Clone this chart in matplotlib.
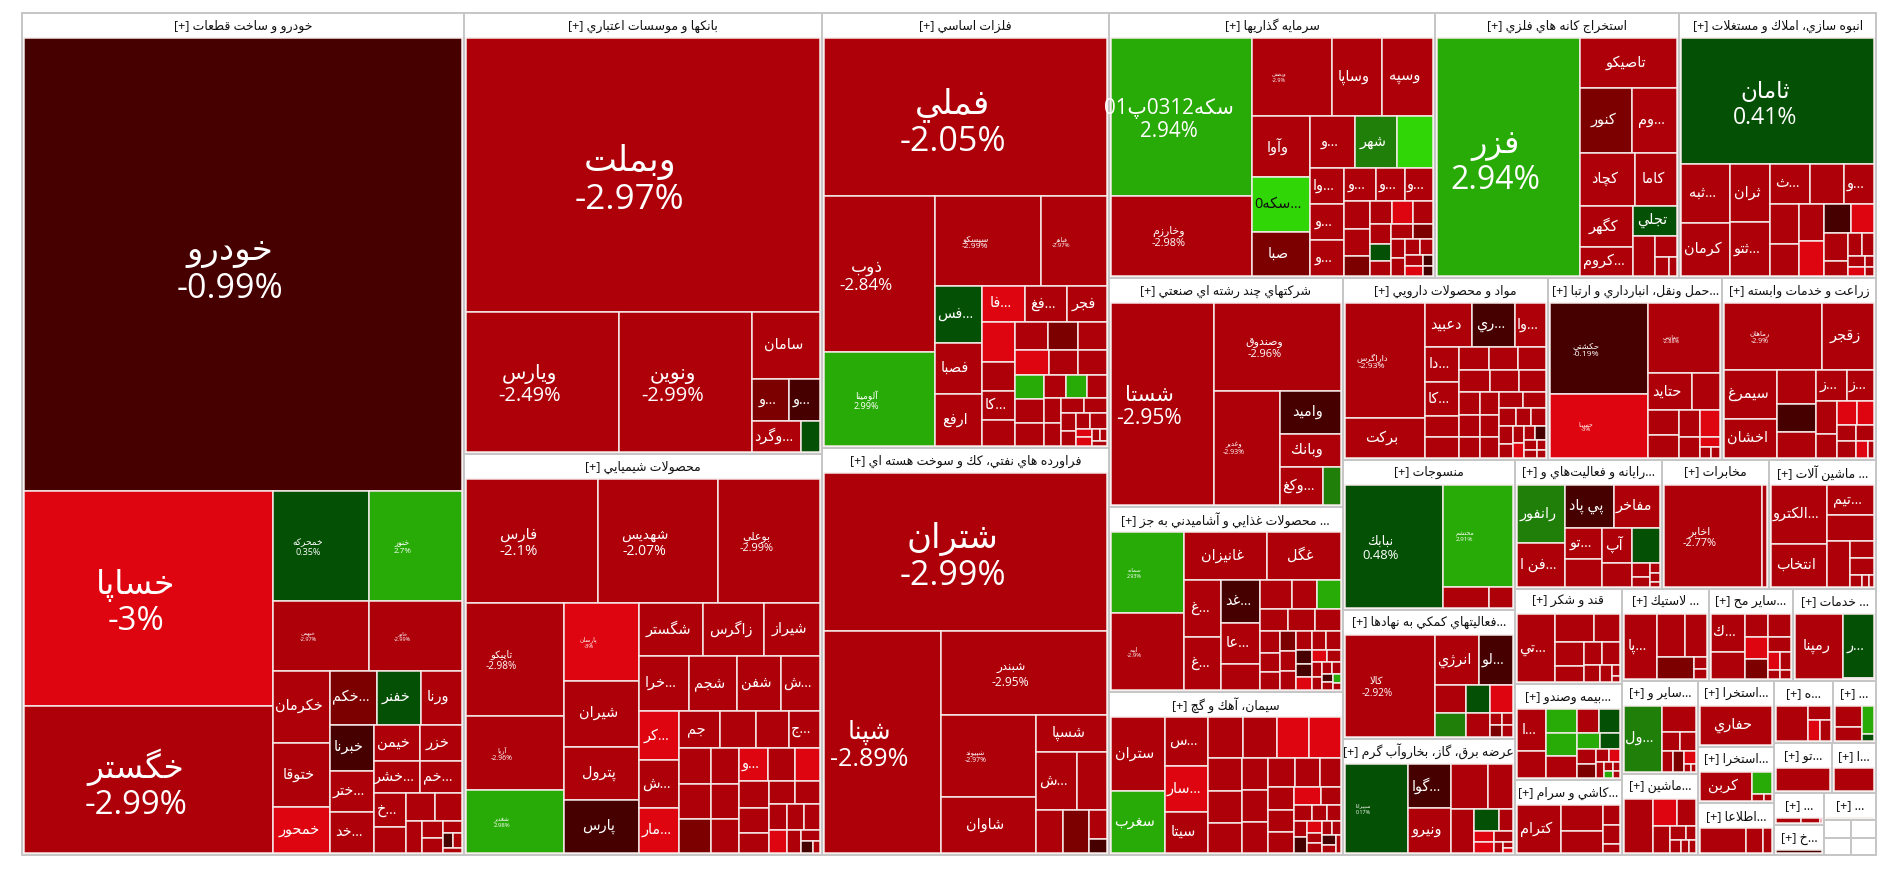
import re
import matplotlib
matplotlib.use("Agg")
import matplotlib.pyplot as plt
from matplotlib.patches import Rectangle

# ---------- data: (estimated) cell sizes, change % and names, sector by sector ----------
auto_names = ["خودرو","خساپا","خگستر","خمحركه","خنور","خبهمن","خاور","خكرمان","ختوقا","خمحور","خكم...","خفنر","ورنا","خبرنا","ختر...","خد...","خيمن","خزر","خشر...","خم...","خ..."]
auto_changes = [-0.99,-3,-2.99,0.35,2.7,-2.97,-2.99,-2.5,-2.5,-3,-1.5,0.5,-2.5,-0.5,-2.5,-2.5,-2.5,-2.5,-2.5,-2.5,-2.5,-2.5,-2.5,-2.5,-2.5,-2.5,-2.5,-2.5,-0.5,-2.5,-2.5]
auto_values = [198,53.5,36.6,10.5,10.2,6.6,6.4,4.1,3.65,2.6,2.5,2.4,2.2,1.98,1.8,1.75,1.67,1.5,1.5,1.35,1.09,0.84,0.81,0.73,0.51,0.35,0.32,0.23,0.16,0.12,0.1]

bank_names = ["وبملت","ويارس","ونوين","سامان","و...","و...","وگرد...",""]
bank_changes = [-2.97,-2.49,-2.99,-2.5,-1.5,-0.5,-2.5,0.5]
bank_values = [97.4,21.5,18.8,4.6,1.55,1.3,1.49,0.6]

chem_names = ["فارس","شهديس","بوعلي","تاپيكو","آريا","شغدير","پارسان","شيران","پترول","پارس","شگستر","زاگرس","شيراز","خرا...","شجم","شفن","ش...","كر...","ش...","مار...","جم","","","ج...","","","","","","","و..."]
chem_changes = [-2.1,-2.07,-2.99,-2.98,-2.96,2.98,-3,-2.5,-2.5,-0.5,-2.5,-2.5,-2.5,-2.5,-2.5,-2.5,-2.5,-3,-2.5,-3,-2.5,-2.5,-2.5,-2.5,-2.5,-2.5,-1.5,-2.5,-2.5,-2.5,-3,-2.5,-3,-2.5,-2.5,-2.5,-2.5,-2.5,-2.5,-3,-2.5,-2.5,-2.5,-2.5,-0.5,-2.5]
chem_values = [16.3,14.9,12.6,11,7.3,6.1,5.85,5,4,4,3.4,3.2,3,2.7,2.65,2.4,2.15,1.96,1.88,1.8,1.47,1.3,1.2,1.15,1.15,1.09,1.05,1.04,1,0.98,0.95,0.9,0.83,0.79,0.72,0.6,0.6,0.58,0.47,0.43,0.42,0.42,0.31,0.23,0.15,0.08]

metal_names = ["فملي","ذوب","آلومينا","سپسكو","فباهر","...فس","فصبا","ارفع","فا...","فغ...","فجر","","","كا..."]
metal_changes = [-2.05,-2.84,2.99,-2.99,-2.97,0.5,-2.5,-2.5,-3,-2.5,-2.5,-3,-2.5,-2.5,-2.5,-2.5,-1.5,-2.5,-3,-2.5,-2.5,2.5,-2.5,-2.5,-2.5,2.5,-2.5,-2.5,-2.5,-2.5,-2.5,-2.5,-2.5,-2.5,-2.5,-3,-3,-2.5,-2.5,-2.5]
metal_values = [44.4,17.1,10.3,9.5,5.8,2.65,2.4,2.4,1.55,1.5,1.4,1.33,0.98,0.95,0.88,0.92,0.84,0.82,0.82,0.72,0.69,0.7,0.67,0.65,0.5,0.48,0.44,0.42,0.39,0.36,0.36,0.26,0.23,0.22,0.25,0.14,0.14,0.1,0.08,0.07]

ref_names = ["شتران","شپنا","شبندر","شپيوند","شاوان","شسپا","ش..."]
ref_changes = [-2.99,-2.89,-2.95,-2.97,-2.5,-2.5,-2.5,-2.5,-2.5,-1.5,-2.5,-0.5]
ref_values = [44.7,26,14.1,7.8,5.4,2.56,2.4,1.74,1.16,1.08,0.52,0.25]

inv_names = ["سكه0312پ01","وخارزم","وپخش","وساپا","وسپه","وآوا","سكه0...","صبا","و...","شهر","","وا...","و...","و...","و...","و...","و..."]
inv_changes = [2.94,-2.98,-2.9,-2.5,-2.5,-2.5,3,-1.5,-2.5,1.5,3,-2.5,-2.5,-2.5,-2.5,-2.5,-2.5,-2.5,-2.5,-1.5,-2.5,-3,-2.5,-2.5,0.5,-2.5,-2.5,-1.5,-2.5,-2.5,-2.5,-2.5,-2.5,-3,-0.5,-0.5]
inv_values = [22,11.2,6.1,3.9,3.9,3.5,3.1,2.5,2.3,2.2,1.85,1.2,1.2,1.2,1.05,0.93,0.93,0.7,0.7,0.5,0.5,0.48,0.45,0.42,0.36,0.33,0.33,0.3,0.26,0.24,0.23,0.2,0.19,0.16,0.12,0.1]

mine_names = ["فزر","تاصيكو","كنور","وم...","كچاد","كاما","كگهر","كروم...","تجلي"]
mine_changes = [2.94,-2.5,-1.5,-2.5,-2.5,-2.5,-2.5,-2.5,0.5,-2.5,-2.5,-2.5,-2.5]
mine_values = [33.2,4.75,3.3,2.9,2.8,2.2,2.1,1.5,1.3,0.86,0.48,0.26,0.16]

con_names = ["ثامان","ثبه...","كرمان","ثران","ثتو...","ث...","","و..."]
con_changes = [0.41,-2.5,-2.5,-2.5,-2.5,-2.5,-2.5,-2.5,-2.5,-2.5,-2.5,-3,-0.5,-3,-2.5,-2.5,-2.5,-2.5,-2.5,-3,-2.5,-2.5]
con_values = [24.5,2.9,2.6,2.3,2.15,1.6,1.33,1.2,1.2,0.96,0.9,0.86,0.82,0.68,0.68,0.36,0.32,0.29,0.18,0.16,0.1,0.08]

multi_names = ["شستا","وصندوق","وغدير","واميد","وبانك","وكغ..."]
multi_changes = [-2.95,-2.96,-2.93,-0.5,-2.5,-2.5,1.5]
multi_values = [20.2,10.8,7.3,2.56,2,1.58,0.62]

food_names = ["سمانه","ايبه","غانيزان","غگل","غ...","غ...","غد...","عا..."]
food_changes = [2.93,-2.9,-2.5,-2.5,-2.5,-2.5,-0.5,-2.5,-2.5,-2.5,-2.5,2.5,-2.5,-2.5,-2.5,-2.5,-2.5,-2.5,-1.5,-2.5,-2.5,-2.5,-2.5,-2.5,-0.5,-0.5,-3,-3,-2.5,-2.5,-2.5,-2.5,-2.5,-0.5,-2.5,2.5,-2.5]
food_values = [5.9,5.5,4,3.55,2.1,1.95,1.65,1.55,1,0.9,0.7,0.68,0.6,0.58,0.55,0.43,0.38,0.35,0.31,0.31,0.3,0.29,0.27,0.26,0.22,0.2,0.2,0.19,0.17,0.15,0.13,0.12,0.1,0.09,0.08,0.07,0.05]

cem_names = ["ستران","سغرب","س...","سار...","سيتا"]
cem_changes = [-2.5,2.5,-2.5,-3,-2.5,-2.5,-2.5,-3,-3,-2.5,-2.5,-2.5,-2.5,-2.5,-2.5,-2.5,-2.5,-2.5,-2.5,-2.5,-2.5,-3,-2.5,-2.5,-2.5,-2.5,-2.5,-0.5,-3,-2.5,-2.5,-2.5,-2.5,-0.5,-2.5,-2.5]
cem_values = [3.9,3.3,2.1,1.95,1.75,1.38,1.33,1.3,1.25,1.08,1.05,1,0.84,0.82,0.8,0.78,0.72,0.6,0.56,0.55,0.54,0.46,0.33,0.28,0.23,0.21,0.2,0.2,0.18,0.16,0.15,0.13,0.13,0.13,0.1,0.08]

pha_names = ["داراگرس","بركت","دعبيد","ري...","وا...","دا...","كا..."]
pha_changes = [-2.93,-2.5,-2.5,-0.5,-2.5,-2.5,-2.5,-2.5,-2.5,-2.5,-2.5,-2.5,-2.5,-2.5,-2.5,-2.5,-2.5,-2.5,-2.5,-2.5,-2.5,-2.5,-2.5,-2.5,-2.5,-2.5,-2.5,-2.5,-2.5,-3,-2.5,-0.5,-2.5,-2.5,-2.5,-2.5]
pha_values = [8.7,3,1.9,1.78,1.25,1.1,1.07,0.65,0.65,0.67,0.65,0.62,0.62,0.58,0.54,0.46,0.42,0.41,0.41,0.4,0.37,0.36,0.35,0.3,0.27,0.25,0.25,0.19,0.17,0.15,0.14,0.14,0.12,0.1,0.08,0.06]

tra_names = ["حكشتي","حسينا","حفارس","حتايد"]
tra_changes = [-0.19,-3,-2.88,-2.5,-2.5,-2.5,-2.5,-2.5,-3,-2.5,-3,-2.5,-2.5]
tra_values = [8.7,6.1,5,1.6,1,0.75,0.68,0.57,0.52,0.44,0.2,0.12,0.1]

agr_names = ["رماهان","زقجر","سيمرغ","اخشان","","","","ز...","ز..."]
agr_changes = [-2.9,-2.5,-2.5,-2.5,-2.5,-0.5,-2.5,-2.5,-2.5,-2.5,-2.5,-3,-3,-2.5,-2.5,-2.5,-3,-2.5]
agr_values = [6.3,3.4,2.45,2,1.25,1.05,0.95,0.9,0.8,0.68,0.48,0.46,0.4,0.3,0.3,0.27,0.2,0.1]

tex_names = ["نبابك","محتشم"]
tex_changes = [0.48,2.91,-2.5,-2.5]
tex_values = [12.1,7.2,0.99,0.5]

aid_names = ["كالا","انرژي","لو..."]
aid_changes = [-2.92,-2.5,-0.5,-2.5,1.5,0.5,-3,-2.5,-2.5,-2.5,-1.5,-2.5]
aid_values = [8.9,2.15,1.65,0.84,0.74,0.65,0.62,0.55,0.14,0.12,0.14,0.12]

pow_names = ["سپيرانا","گوا...","ونيرو"]
pow_changes = [0.17,-0.5,-2.5,-2.5,-2.5,-2.5,0.5,-2.5,-3,-3,-2.5,-2.5,-2.5,-3]
pow_values = [5.4,1.85,1.85,1.6,1.1,0.97,0.5,0.28,0.21,0.2,0.2,0.1,0.06,0.05]

com_names = ["رانفور","فن ا...","پي پاد","مفاخر","تو...","","آپ"]
com_changes = [1.5,-2.5,-0.5,-2.5,-2.5,-2.5,-2.5,0.5,-2.5,-2.5,-2.5,-2.5,-2.5,-2.5]
com_values = [2.7,2,2,1.9,1.1,1,0.98,0.92,0.68,0.25,0.17,0.1,0.08,0.05]

tel_names = ["اخابر"]
tel_changes = [-2.77,-2.5]
tel_values = [10.1,0.47]

mac_names = ["الكترو...","انتخاب","تيم..."]
mac_changes = [-2.5,-2.5,-2.5,-2.5,-2.5,-2.5,-2.5,-2.5,-2.5,-2.5]
mac_values = [3.1,2.25,1.35,1.12,1,0.39,0.39,0.13,0.08,0.05]

sug_names = ["تي..."]
sug_changes = [-2.5,-2.5,-2.5,-2.5,-2.5,-2.5,-2.5,-2.5,-2.5,-2.5,-2.5]
sug_values = [2.5,1.05,0.68,0.66,0.45,0.41,0.39,0.27,0.21,0.08,0.05]

ins_names = ["ا..."]
ins_changes = [-2.5,-2.5,2.5,2.5,-2.5,-2.5,0.5,2.5,0.5,-2.5,-1.5,-2.5,-3,-2.5,-2.5,2.5,-2.5,-2.5]
ins_values = [1.18,0.78,0.7,0.7,0.65,0.5,0.48,0.35,0.3,0.28,0.27,0.18,0.14,0.12,0.07,0.06,0.06,0.05]

til_names = ["كترام"]
til_changes = [-2.5,-2.5,-2.5,-2.5,-2.5,-2.5]
til_values = [2.07,1.05,0.92,0.33,0.3,0.15]

rub_names = ["پا..."]
rub_changes = [-2.5,-2.5,-2.5,-1.5,-2.5,-2.5]
rub_values = [2.1,1.22,0.92,0.8,0.15,0.13]

ometal_names = ["ك..."]
ometal_changes = [-2.5,-2.5,-2.5,-2.5,-3,-1.5,-2.5,-3,-2.5,-2.5,-2.5]
ometal_values = [1.25,0.87,0.53,0.53,0.49,0.45,0.33,0.22,0.2,0.1,0.09]

srv_names = ["رمپنا","ر..."]
srv_changes = [-2.5,0.5,-3]
srv_values = [3.07,1.95,0.02]

oth_names = ["ول..."]
oth_changes = [1.5,-2.5,-2.5,-2.5,-2.5,-1.5,-3,-2.5,-2.5]
oth_values = [2.37,0.85,0.35,0.3,0.22,0.21,0.15,0.05,0.04]

eng_names = []
eng_changes = [-2.5,-3,-2.5,-2.5,-2.5,-2.5,-2.5,-2.5,-2.5]
eng_values = [1.5,0.6,0.5,0.42,0.22,0.13,0.13,0.1,0.08]

ex1_names = ["حفاري"]
ex1_changes = [-2.5]
ex1_values = [2.7]

ex2_names = ["كربن"]
ex2_changes = [-2.5,2.5,-2.5,-2.5]
ex2_values = [1.45,0.42,0.08,0.05]

inf_names = []
inf_changes = [-2.5,-2.5,-2.5]
inf_values = [1.03,0.4,0.2]

s1_names = []
s1_changes = [-2.5,-2.5,-3,-2.5]
s1_values = [1.1,0.3,0.25,0.22]

s2_names = []
s2_changes = [-2.5,-2.5,2.5,0.5]
s2_values = [0.56,0.39,0.33,0.09]

s3_names, s3_changes, s3_values = [], [-2.5], [1.07]
s4_names, s4_changes, s4_values = [], [-2.5], [0.87]
s5_names, s5_changes, s5_values = [], [-2.5,-2.5,-3], [0.13,0.1,0.01]
s6_names, s6_changes, s6_values = [], [-2.5], [0.1]
s7_names, s7_changes, s7_values = [], [-0.5], [0.1]
e_names, e_changes, e_values = [], [], []

sector_titles = [
 "خودرو و ساخت قطعات [+]","بانكها و موسسات اعتباري [+]","محصولات شيميايي [+]","فلزات اساسي [+]",
 "فراورده هاي نفتي، كك و سوخت هسته اي [+]","سرمايه گذاريها [+]","استخراج كانه هاي فلزي [+]",
 "انبوه سازي، املاك و مستغلات [+]","شركتهاي چند رشته اي صنعتي [+]","... محصولات غذايي و آشاميدني به جز [+]",
 "سيمان، آهك و گچ [+]","مواد و محصولات دارويي [+]","...حمل ونقل، انبارداري و ارتبا [+]","زراعت و خدمات وابسته [+]",
 "منسوجات [+]","...فعاليتهاي كمكي به نهادها [+]","عرضه برق، گاز، بخاروآب گرم [+]",
 "...رايانه و فعاليت\u200cهاي و [+]","مخابرات [+]","... ماشين آلات [+]",
 "قند و شكر [+]","...بيمه وصندو [+]","...كاشي و سرام [+]","... لاستيك [+]","...ساير مح [+]","... خدمات [+]",
 "...ساير و [+]","...ماشين [+]","...استخرا [+]","...استخرا [+]","...اطلاعا [+]",
 "...ه [+]","... [+]","...تو [+]","...ا [+]","... [+]","...خ [+]","... [+]","","","",""]
sector_values = [371.3,157.9,143.6,124.4,116.4,86.4,64.6,52,53.4,43.3,38.1,37.3,31.7,27.9,
                 25.8,22.2,20,18.9,13.8,13.8,10.2,10.2,8,8,7.7,7.6,7.1,6.2,5,4.3,3.9,
                 3.7,2.7,2.85,2.2,1.6,1.5,1.4,0.48,0.46,0.45,0.42]
sector_names = [auto_names,bank_names,chem_names,metal_names,ref_names,inv_names,mine_names,con_names,multi_names,food_names,
                cem_names,pha_names,tra_names,agr_names,tex_names,aid_names,pow_names,com_names,tel_names,mac_names,
                sug_names,ins_names,til_names,rub_names,ometal_names,srv_names,oth_names,eng_names,ex1_names,ex2_names,inf_names,
                s1_names,s2_names,s3_names,s4_names,s5_names,s7_names,s6_names,e_names,e_names,e_names,e_names]
sector_changes = [auto_changes,bank_changes,chem_changes,metal_changes,ref_changes,inv_changes,mine_changes,con_changes,multi_changes,food_changes,
                cem_changes,pha_changes,tra_changes,agr_changes,tex_changes,aid_changes,pow_changes,com_changes,tel_changes,mac_changes,
                sug_changes,ins_changes,til_changes,rub_changes,ometal_changes,srv_changes,oth_changes,eng_changes,ex1_changes,ex2_changes,inf_changes,
                s1_changes,s2_changes,s3_changes,s4_changes,s5_changes,s7_changes,s6_changes,e_changes,e_changes,e_changes,e_changes]
sector_cells = [auto_values,bank_values,chem_values,metal_values,ref_values,inv_values,mine_values,con_values,multi_values,food_values,
                cem_values,pha_values,tra_values,agr_values,tex_values,aid_values,pow_values,com_values,tel_values,mac_values,
                sug_values,ins_values,til_values,rub_values,ometal_values,srv_values,oth_values,eng_values,ex1_values,ex2_values,inf_values,
                s1_values,s2_values,s3_values,s4_values,s5_values,s7_values,s6_values,e_values,e_values,e_values,e_values]

# ---------- styles ----------
# pixel font size of the cells that show name + change
LABEL_PX = {"خودرو":34,"خساپا":33,"خگستر":33,"خمحركه":9,"خنور":8,"خبهمن":5.5,"خاور":5.5,
            "وبملت":35,"ويارس":20,"ونوين":20,"فارس":15,"شهديس":14,"بوعلي":11,"تاپيكو":10,"آريا":7,"شغدير":6,"پارسان":6,
            "شتران":34,"شپنا":25,"شبندر":12,"شپيوند":7,"فملي":34,"ذوب":17,"سپسكو":8.5,"فباهر":6,"آلومينا":9,
            "سكه0312پ01":20.6,"وخارزم":11,"وپخش":5.5,"فزر":32,"ثامان":23,"شستا":21,"وصندوق":11,"وغدير":7,
            "داراگرس":8.5,"حكشتي":8.5,"حفارس":5.5,"حسينا":6,"رماهان":7,"سمانه":5.4,"ايبه":6,"نبابك":13,"محتشم":6.3,
            "كالا":10,"سپيرانا":5.4,"اخابر":11}
NAME_PX = 14.5
HEADER_PX = 12.5
HEADER_H = 25
BANDS = [(-3.0,"#de0510"),(-2.0,"#ae0009"),(-1.0,"#7c0000"),(-1e-9,"#470000"),
         (1.0,"#045004"),(2.0,"#1f7f08"),(2.999,"#29ab07"),(99,"#31d606")]
FONT = ["Open Sans","DejaVu Sans"]

# ---------- Arabic shaping (matplotlib draws no joined/RTL text by itself) ----------
FORMS = {}
def _f(ch, base, n): FORMS[ch] = [base + i for i in range(n)]
for ch, base, n in [("ء",0xFE80,1),("آ",0xFE81,2),("أ",0xFE83,2),("ؤ",0xFE85,2),("إ",0xFE87,2),("ئ",0xFE89,4),("ا",0xFE8D,2),
    ("ب",0xFE8F,4),("ة",0xFE93,2),("ت",0xFE95,4),("ث",0xFE99,4),("ج",0xFE9D,4),("ح",0xFEA1,4),("خ",0xFEA5,4),("د",0xFEA9,2),
    ("ذ",0xFEAB,2),("ر",0xFEAD,2),("ز",0xFEAF,2),("س",0xFEB1,4),("ش",0xFEB5,4),("ص",0xFEB9,4),("ض",0xFEBD,4),("ط",0xFEC1,4),
    ("ظ",0xFEC5,4),("ع",0xFEC9,4),("غ",0xFECD,4),("ف",0xFED1,4),("ق",0xFED5,4),("ك",0xFED9,4),("ل",0xFEDD,4),("م",0xFEE1,4),
    ("ن",0xFEE5,4),("ه",0xFEE9,4),("و",0xFEED,2),("ى",0xFEEF,2),("ي",0xFEF1,4),("پ",0xFB56,4),("چ",0xFB7A,4),("ژ",0xFB8A,2),
    ("گ",0xFB92,4),("ک",0xFB8E,4),("ی",0xFBFC,4)]:
    _f(ch, base, n)
LAM_ALEF = {"ا":0xFEFB,"آ":0xFEF5,"أ":0xFEF7,"إ":0xFEF9}

def shape(s):
    out, i = [], 0
    while i < len(s):
        c = s[i]
        if c not in FORMS:
            if c != "\u200c":
                out.append(c)
            i += 1
            continue
        prev = s[i-1] if i else ""
        joins_prev = prev in FORMS and len(FORMS[prev]) == 4
        if c == "ل" and i + 1 < len(s) and s[i+1] in LAM_ALEF:
            out.append(chr(LAM_ALEF[s[i+1]] + (1 if joins_prev else 0)))
            i += 2
            continue
        nxt = s[i+1] if i + 1 < len(s) else ""
        joins_next = nxt in FORMS and len(FORMS[c]) == 4
        f = FORMS[c]
        if len(f) == 1:
            g = f[0]
        elif joins_prev and joins_next:
            g = f[3]
        elif joins_next:
            g = f[2]
        elif joins_prev:
            g = f[1]
        else:
            g = f[0]
        out.append(chr(g))
        i += 1
    return "".join(out)

MIRROR = {"[":"]","]":"["}
def visual(s):
    if s.endswith("..."):
        return visual(s[:-3]) + "..."
    toks = re.findall(r"[0-9]+|[^0-9]", shape(s))
    return "".join(MIRROR.get(t, t) for t in reversed(toks))

# ---------- squarified treemap ----------
def worst(row, side):
    tot = sum(row)
    return max(max(side*side*a/(tot*tot), tot*tot/(side*side*a)) for a in row)

def squarify(values, x, y, w, h):
    total = sum(values)
    if total <= 0 or w <= 0 or h <= 0:
        return []
    areas = [v*w*h/total for v in values]
    rects, i = [], 0
    while i < len(areas):
        side = min(w, h)
        row = [areas[i]]
        j = i + 1
        while j < len(areas) and worst(row+[areas[j]], side) <= worst(row, side):
            row.append(areas[j])
            j += 1
        tot = sum(row)
        if w >= h:
            cw = tot/h
            yy = y
            for a in row:
                rects.append((x, yy, cw, a/cw))
                yy += a/cw
            x += cw; w -= cw
        else:
            ch = tot/w
            xx = x
            for a in row:
                rects.append((xx, y, a/ch, ch))
                xx += a/ch
            y += ch; h -= ch
        i = j
    return rects

def band(ch):
    for lim, col in BANDS:
        if ch <= lim:
            return col
    return BANDS[-1][1]

# ---------- drawing ----------
fig = plt.figure(figsize=(19, 8.73), dpi=100)
ax = fig.add_axes([0, 0, 1, 1])
ax.set_xlim(0, 1900); ax.set_ylim(873, 0); ax.axis("off")
px = 72/100

for (sx, sy, sw, sh), title, names, changes, cells in zip(
        squarify(sector_values, 22, 13, 1854, 842), sector_titles, sector_names, sector_changes, sector_cells):
    ax.add_patch(Rectangle((sx, sy), sw, sh, fc="white", ec="#c6c6c6", lw=2*px, zorder=1))
    if title:
        ax.text(sx+sw/2, sy+min(HEADER_H, sh)/2+0.5, visual(title), ha="center", va="center", color="#111111",
                fontsize=HEADER_PX*px, family=FONT, zorder=5)
    ix, iw = sx+2, sw-4
    iy, ih = sy+HEADER_H, sh-HEADER_H-2
    if ih <= 0:
        continue
    full_names = list(names) + [""]*(len(cells)-len(names))
    for (x, y, w, h), name, ch in zip(squarify(cells, ix, iy, iw, ih), full_names, changes):
        ax.add_patch(Rectangle((x, y), w, h, fc=band(ch), ec="#f6eaea", lw=1.5*px, zorder=2))
        if not name:
            continue
        tcol = "#111111" if ch >= 3 else "white"
        if name in LABEL_PX:
            fpx = LABEL_PX[name]
            ax.text(x+w/2-13, y+h/2+0.16*fpx, visual(name)+"\n"+f"{ch:g}%", ha="center", va="center", color=tcol,
                    fontsize=fpx*px, family=FONT, linespacing=1.12, zorder=4)
        else:
            ax.text(x+w/2-3, y+h/2, visual(name), ha="center", va="center", color=tcol,
                    fontsize=NAME_PX*px, family=FONT, zorder=4)

fig.savefig("out.png", dpi=100, facecolor="white")
